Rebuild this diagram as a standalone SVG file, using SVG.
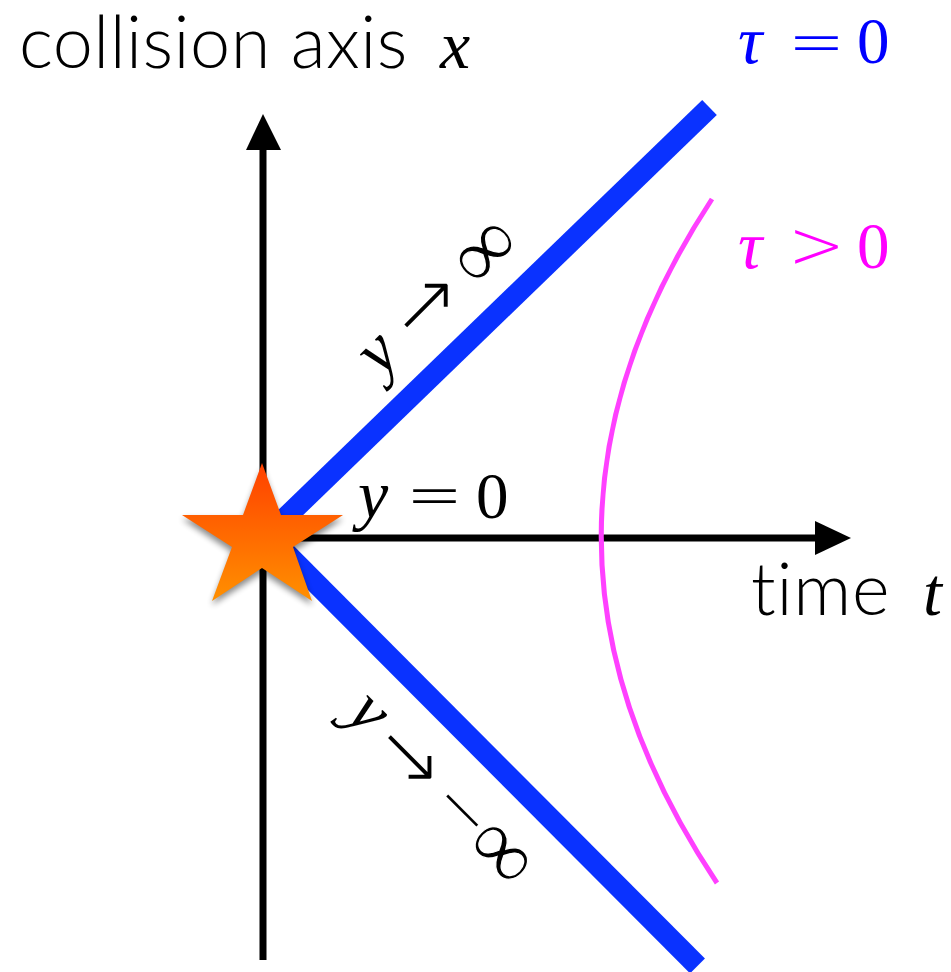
<svg xmlns="http://www.w3.org/2000/svg" width="951" height="972" viewBox="0 0 951 972">
<defs>
<linearGradient id="starFill" x1="0" y1="0" x2="0" y2="1"><stop offset="0" stop-color="#ff4000"/><stop offset="1" stop-color="#ff9000"/></linearGradient>
<filter id="shadow" x="-20%" y="-20%" width="140%" height="140%"><feGaussianBlur stdDeviation="3"/></filter>
</defs>
<style>
.ax{stroke:#000;stroke-width:7;fill:none}
.head{fill:#000}
.blue{stroke:#0a32ff;stroke-width:21;fill:none}
.sans{font-family:"Lato","Open Sans",sans-serif;font-weight:300;fill:#000;font-size:72px}
.math{font-family:"Liberation Serif","DejaVu Serif",serif;font-style:italic;font-size:68px}
.up{font-family:"Liberation Serif","DejaVu Serif",serif;font-size:65px}
.sym{font-family:"DejaVu Sans",sans-serif;font-weight:200;font-size:68px}
.inf{font-family:"Liberation Serif","DejaVu Serif",serif;font-size:90px;stroke:#fff;stroke-width:1.2}
.b{fill:#0000ff}
.p{fill:#ff00ff}
</style>
<g id="connectors">
<path class="ax" d="M263 960V145"/><polygon class="head" points="263,114 281,150 246,150"/>
<path class="ax" d="M263 538H820"/><polygon class="head" points="851,538 815,521 815,555"/>
<path class="blue" d="M269.5 533L709.5 107.5"/>
<path class="blue" d="M267 534L697.5 966"/>
<path d="M712 199Q488 540 717 883" stroke="#ff40ff" stroke-width="5" fill="none"/>
</g>
<g id="star">
<polygon points="262,469 281,519 343,519 293,552 312,605 262,573 212,605 232,552 182,519 243,519" fill="#000" opacity=".45" filter="url(#shadow)"/>
<polygon points="262,463 281,515 343,515 293,547 312,601 262,568 212,601 232,547 182,515 243,515" fill="url(#starFill)"/>
</g>
<g id="labels">
<text class="sans" x="19" y="68" letter-spacing="0.45">collision axis</text>
<text class="math" x="440" y="68">x</text>
<text class="math b" x="738" y="63">τ</text><text class="sym b" x="788" y="65">=</text><text class="up b" x="857" y="63">0</text>
<text class="math p" x="738" y="268">τ</text><text class="sym p" x="788" y="268">&gt;</text><text class="up p" x="857" y="268">0</text>
<text class="math" x="358" y="518">y</text><text class="sym" x="406" y="518">=</text><text class="up" x="476" y="518">0</text>
<text class="sans" x="751" y="615" letter-spacing="0.8">time</text>
<text class="math" x="923" y="615">t</text>
<g transform="translate(385 382) rotate(-45)"><text class="math" x="0" y="-6">y</text><text class="sym" x="50" y="0" style="font-size:80px">→</text><text class="inf" x="131" y="5">∞</text></g>
<g transform="translate(338 708) rotate(45)"><text class="math" x="10" y="1">y</text><text class="sym" x="52" y="9" style="font-size:80px">→</text><text class="sym" x="132" y="6">−</text><text class="inf" x="186" y="13">∞</text></g>
</g>
</svg>
